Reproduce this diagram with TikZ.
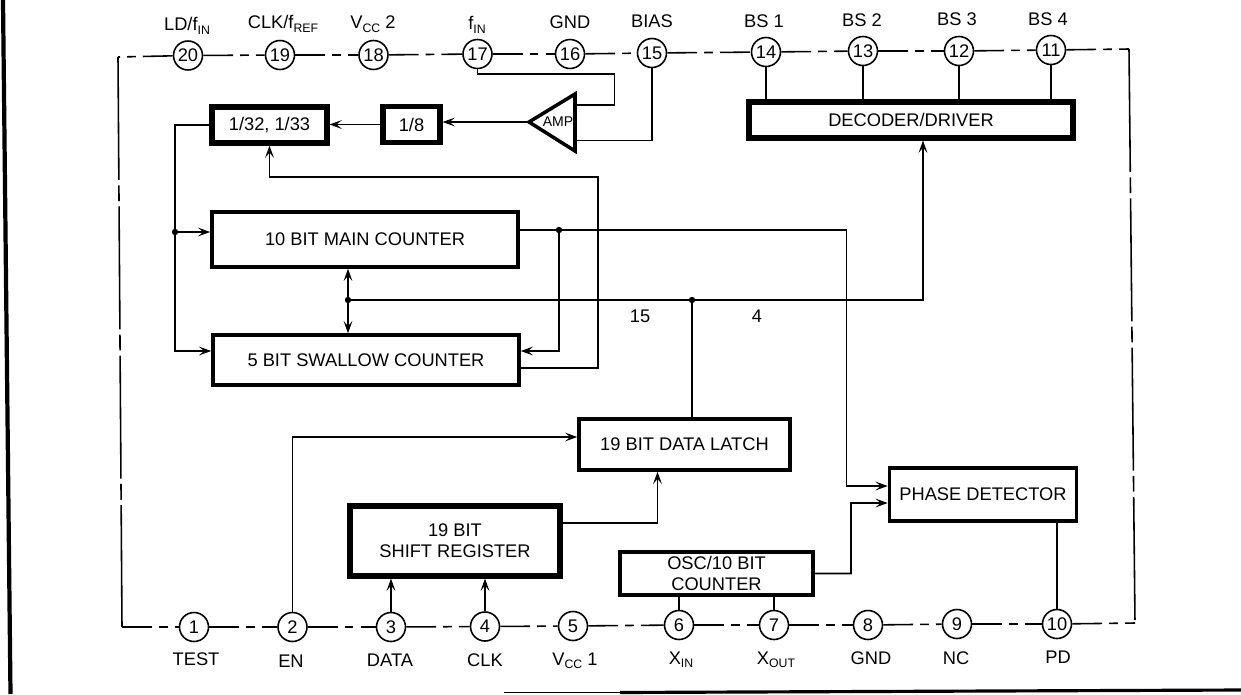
\documentclass[tikz,border=0pt]{standalone}
\usepackage{fontspec}
\setmainfont{Liberation Sans}
\usetikzlibrary{arrows.meta,calc}
\newcommand{\lowtxt}[1]{\raisebox{-0.35ex}{\fontsize{7}{8}\selectfont #1}}
\tikzset{
    wire/.style={line width=0.9pt},
    bus/.style={line width=1.3pt},
    sig/.style={wire, -{Stealth[length=7pt,width=5pt,inset=3pt]}},
    rail/.style={line width=0.9pt, dash pattern=on 17pt off 4pt on 5pt off 4pt},
    railv/.style={line width=0.9pt, dash pattern=on 70pt off 3pt on 9pt off 3pt},
    block/.style 2 args={draw, line width=2pt, inner sep=0pt, align=center, minimum width=#1*0.02cm, minimum height=#2*0.02cm},
    heavy/.style={line width=2.9pt},
    pinnode/.style={draw, circle, line width=0.9pt, inner sep=0pt, minimum size=0.58cm}
}
\begin{document}
\begin{tikzpicture}[x=0.02cm, y=-0.02cm, font=\fontsize{10.4}{12}\selectfont]
            \useasboundingbox (0,0) rectangle (1241,694);
            \draw[line width=2.4pt] (3,0) -- (10.5,694);
            \draw[line width=0.7pt] (504,692.5) -- (620,692.5);
            \draw[line width=1.8pt] (620,692.5) -- (1241,690);

            \foreach \n/\x/\y in {20/188/55.5, 19/280/55, 18/373.5/55, 17/477.5/54, 16/570/54, 15/652/53, 14/766/52, 13/863/51, 12/959/51, 11/1051/50,
                1/194/627, 2/292.5/627, 3/391/627, 4/485/626.5, 5/573/626, 6/679/625, 7/774/625, 8/868/625, 9/957/624, 10/1057/624}
                \node[pinnode] (p\n) at (\x,\y) {\n};

            \foreach \n/\x/\y/\t in {20/187/26/{LD/f\lowtxt{IN}}, 19/283/24/{CLK/f\lowtxt{REF}}, 18/373/24/{V\lowtxt{CC} 2}, 17/477/25/{f\lowtxt{IN}}, 16/570/22/GND, 15/652/21/BIAS, 14/764/21/BS 1, 13/862/20/BS 2, 12/957/19/BS 3, 11/1048/19/BS 4,
                1/196/659/TEST, 2/291/661/EN, 3/390/660/DATA, 4/485/660/CLK, 5/575/661/{V\lowtxt{CC} 1}, 6/681/660/{X\lowtxt{IN}}, 7/776/660/{X\lowtxt{OUT}}, 8/871/658/GND, 9/956/658/NC, 10/1058/657/PD}
                \node (name\n) at (\x,\y) {\t};

            \node[block={115}{36}, heavy] (presc) at (269.5,125) {1/32, 1/33};
            \node[block={57}{36}, heavy] (div8) at (411.5,124.5) {1/8};
            \node[block={306}{55}] (main) at (365,239.5) {10 BIT MAIN COUNTER};
            \node[block={306}{50}] (swallow) at (366,360) {5 BIT SWALLOW COUNTER};
            \node[block={211}{51}] (latch) at (684.5,444.5) {19 BIT DATA LATCH};
            \node[block={210}{70}, heavy] (shift) at (455,541) {19 BIT\\SHIFT REGISTER};
            \node[block={193}{43}] (osc) at (716.5,573.5) {OSC/10 BIT\\COUNTER};
            \node[block={187}{53}] (phase) at (983,494.5) {PHASE DETECTOR};
            \node[block={324}{36}, heavy] (decoder) at (911,120) {DECODER/DRIVER};
            \node[font=\fontsize{8}{9}\selectfont, inner sep=0pt] (amplabel) at (558,122) {AMP};
            \node (n15) at (640,316) {15};
            \node (n4) at (757,316) {4};

            \coordinate (amptip) at (529,122);
            \coordinate (ampa) at (575,105);
            \coordinate (ampb) at (575,140.5);
            \draw[line width=2pt] (amptip) -- (575,94) -- (575,151) -- cycle;

            \coordinate (tl) at (118,57);
            \coordinate (bl) at (122,627);
            \coordinate (tr) at (1129,49);
            \coordinate (br) at (1135,623);
            \draw[rail] (p20) -- (tl);
            \draw[railv] (tl) -- (bl);
            \draw[rail] (bl) -- (p1);
            \draw[rail] (p11) -- (tr);
            \draw[railv] (tr) -- (br);
            \draw[rail] (p10) -- (br);
            \foreach \a/\b in {20/19, 19/18, 18/17, 17/16, 16/15, 15/14, 14/13, 13/12, 12/11, 1/2, 2/3, 3/4, 4/5, 5/6, 6/7, 7/8, 8/9, 9/10}
                \draw[rail] (p\a) -- (p\b);

            \foreach \n in {14,13,12,11}
                \draw[wire] (p\n) -- (p\n |- decoder.north);

            \draw[wire] (p17) |- (614.5,74) |- (ampa);
            \draw[wire] (p15) |- (ampb);
            \draw[sig] (amptip) -- (amptip -| div8.east);
            \draw[sig] (div8.west) -- (div8.west -| presc.east);

            \coordinate (leftdot) at (175,232);
            \coordinate (maindot) at (559,230);
            \coordinate (busdot) at (348,300);
            \coordinate (latchdot) at (692,300);
            \draw[sig] (presc.west) -| (175,351) -- ($(swallow.west)+(0,-9)$);
            \draw[sig] (leftdot) -- ($(main.west)+(0,-7.5)$);
            \draw[sig] ($(swallow.east)+(0,8)$) -| (598,177) -| (presc.south);
            \draw[sig] ($(main.east)+(0,-9.5)$) -| (846.5,486) -- ($(phase.west)+(0,-8.5)$);
            \draw[sig] (maindot) |- ($(swallow.east)+(0,-9)$);
            \draw[sig, {Stealth[length=7pt,width=5pt,inset=3pt]}-{Stealth[length=7pt,width=5pt,inset=3pt]}] (busdot |- main.south) -- (busdot |- swallow.north);
            \draw[sig, bus] (busdot) -| ($(decoder.south)+(12,0)$);
            \draw[wire] (latchdot) -- (latchdot |- latch.north);
            \draw[sig] (p2) |- ($(latch.west)+(0,-7.5)$);
            \draw[sig] ($(shift.east)+(0,-18)$) -| ($(latch.south)+(-27,0)$);
            \draw[sig] (p3) -- (p3 |- shift.south);
            \draw[sig] (p4) -- (p4 |- shift.south);
            \draw[wire] (p6) -- (p6 |- osc.south);
            \draw[wire] (p7) -- (p7 |- osc.south);
            \draw[sig] (osc.east) -| (851,503) -- ($(phase.west)+(0,8.5)$);
            \draw[wire] (p10) -- (p10 |- phase.south);

            \foreach \d in {leftdot, maindot, busdot, latchdot}
                \fill (\d) circle (3.2);
        \end{tikzpicture}
\end{document}
